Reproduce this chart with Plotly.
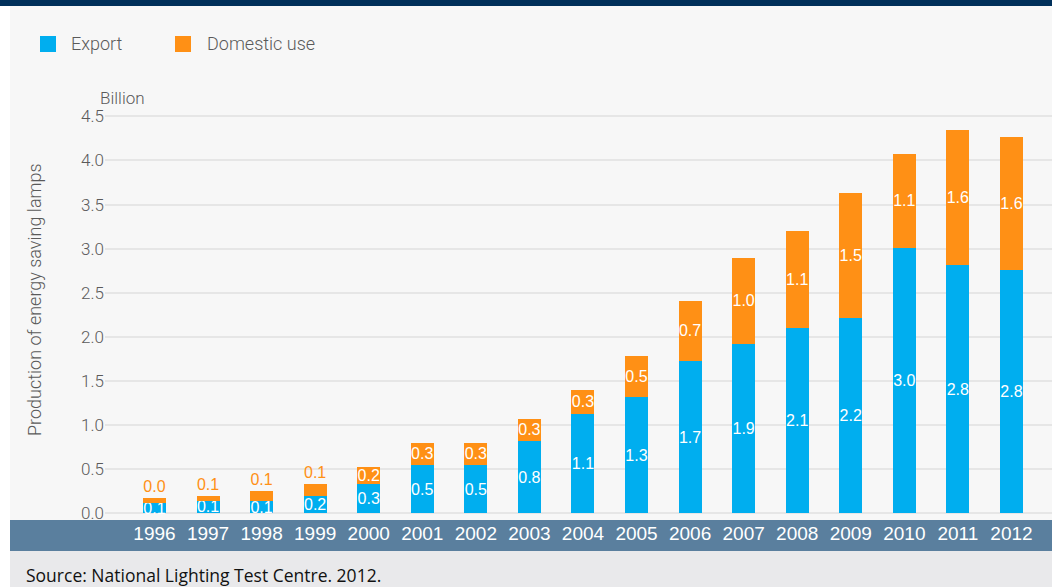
import plotly.graph_objects as go

W, H = 1052, 587
L, R, T, B = 105, 0, 105, 67

years = [str(y) for y in range(1996, 2013)]
export = [0.117, 0.143, 0.140, 0.196, 0.336, 0.548, 0.548, 0.820, 1.129, 1.318,
          1.727, 1.923, 2.104, 2.214, 3.011, 2.815, 2.759]
domestic = [0.056, 0.053, 0.113, 0.136, 0.189, 0.250, 0.250, 0.249, 0.268, 0.467,
            0.683, 0.969, 1.096, 1.418, 1.065, 1.532, 1.508]
export_labels = ["0.1", "0.1", "0.1", "0.2", "0.3", "0.5", "0.5", "0.8", "1.1", "1.3",
                 "1.7", "1.9", "2.1", "2.2", "3.0", "2.8", "2.8"]
domestic_labels = ["0.0", "0.1", "0.1", "0.1", "0.2", "0.3", "0.3", "0.3", "0.3", "0.5",
                   "0.7", "1.0", "1.1", "1.5", "1.1", "1.6", "1.6"]
y_ticks = [0, 0.5, 1, 1.5, 2, 2.5, 3, 3.5, 4, 4.5]

BLUE = "#00aeef"
ORANGE = "#ff9015"
GREY_TXT = "#5a5a5a"


def px(x):
    return (x - L) / (W - L - R)


def py(y):
    return (H - B - y) / (H - T - B)


fig = go.Figure()
fig.add_trace(go.Bar(
    x=years, y=export, name="Export", marker_color=BLUE, marker_line_width=0,
    text=export_labels, textposition="inside", insidetextanchor="middle",
    textangle=0, constraintext="none", cliponaxis=False,
    insidetextfont=dict(family="Liberation Sans, Arial", size=16, color="white"),
))
fig.add_trace(go.Bar(
    x=years, y=domestic, name="Domestic use", marker_color=ORANGE, marker_line_width=0,
    text=domestic_labels,
    textposition=["outside"] * 4 + ["inside"] * 13,
    insidetextanchor="middle", textangle=0, constraintext="none", cliponaxis=False,
    insidetextfont=dict(family="Liberation Sans, Arial", size=16, color="white"),
    outsidetextfont=dict(family="Liberation Sans, Arial", size=16, color=ORANGE),
))

shapes = [
    # grey panel, axis band, source strip, title strip
    dict(type="rect", xref="paper", yref="paper", x0=px(10), x1=px(W), y0=py(520), y1=py(6),
         fillcolor="#f7f7f7", line_width=0, layer="below"),
    dict(type="rect", xref="paper", yref="paper", x0=px(10), x1=px(W), y0=py(551), y1=py(520),
         fillcolor="#5a7f9e", line_width=0, layer="below"),
    dict(type="rect", xref="paper", yref="paper", x0=px(10), x1=px(W), y0=py(H), y1=py(551),
         fillcolor="#e9e9eb", line_width=0, layer="below"),
    dict(type="rect", xref="paper", yref="paper", x0=px(0), x1=px(W), y0=py(6), y1=py(0),
         fillcolor="#00305a", line_width=0, layer="below"),
    # legend swatches
    dict(type="rect", xref="paper", yref="paper", x0=px(40), x1=px(56), y0=py(52), y1=py(36),
         fillcolor=BLUE, line_width=0),
    dict(type="rect", xref="paper", yref="paper", x0=px(175), x1=px(191), y0=py(52), y1=py(36),
         fillcolor=ORANGE, line_width=0),
]

light = dict(family="Roboto", size=17, color=GREY_TXT, weight=300)
legend_font = dict(family="Roboto", size=18, color=GREY_TXT, weight=300)
annotations = [
    dict(text="Export", x=px(69), y=py(44), xanchor="left", yanchor="middle", font=legend_font),
    dict(text="Domestic use", x=px(205), y=py(44), xanchor="left", yanchor="middle", font=legend_font),
    dict(text="Billion", x=px(98), y=py(98), xanchor="left", yanchor="middle", font=light),
    dict(text="Production of energy saving lamps", x=px(34), y=py(300), textangle=-90,
         xanchor="center", yanchor="middle", font=dict(family="Roboto", size=18, color=GREY_TXT, weight=300)),
    dict(text="Source: National Lighting Test Centre. 2012.", x=px(24), y=py(575),
         xanchor="left", yanchor="middle", font=dict(family="Open Sans", size=17.5, color="#111111")),
]
for a in annotations:
    a.update(xref="paper", yref="paper", showarrow=False)

fig.update_layout(
    width=W, height=H, margin=dict(l=L, r=R, t=T, b=B),
    barmode="stack", bargap=0.57, showlegend=False,
    paper_bgcolor="white", plot_bgcolor="rgba(0,0,0,0)",
    shapes=shapes, annotations=annotations,
    xaxis=dict(type="category", range=[-0.924, 16.757], showgrid=False, zeroline=False,
               ticks="", tickfont=dict(family="Liberation Sans, Arial", size=19, color="white"),
               fixedrange=True),
    yaxis=dict(range=[-0.076, 4.629], tickvals=y_ticks, ticktext=[f"{v:.1f}" for v in y_ticks],
               showgrid=True, gridcolor="#e6e6e6", gridwidth=1.5, zeroline=False,
               tickfont=light, ticks="", fixedrange=True),
)

# page has a default 8px body margin; drop it so the figure sits at the window's corner
fig.write_html("out.html", config={"displayModeBar": False},
               post_script="document.body.style.margin='0';")
